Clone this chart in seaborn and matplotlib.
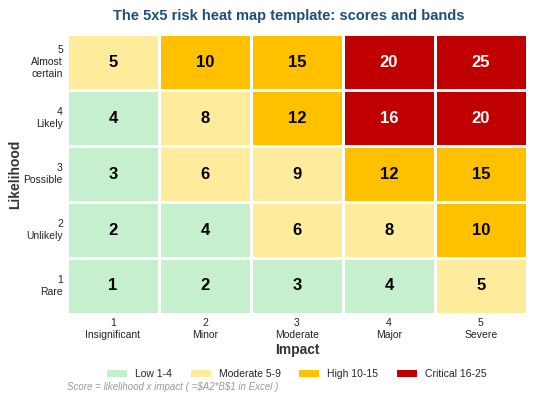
import numpy as np
import pandas as pd
import seaborn as sns
import matplotlib.pyplot as plt
from matplotlib.colors import ListedColormap, BoundaryNorm
from matplotlib.patches import Patch

impact_labels = ["1\nInsignificant", "2\nMinor", "3\nModerate", "4\nMajor", "5\nSevere"]
likelihood_labels = ["5\nAlmost\ncertain", "4\nLikely", "3\nPossible", "2\nUnlikely", "1\nRare"]
impact_vals = [1, 2, 3, 4, 5]
likelihood_vals = [5, 4, 3, 2, 1]
band_names = ["Low 1-4", "Moderate 5-9", "High 10-15", "Critical 16-25"]
band_edges = [0.5, 4.5, 9.5, 15.5, 25.5]
band_colors = ["#C6EFCE", "#FFEB9C", "#FFC000", "#C00000"]

scores = np.array([[l * i for i in impact_vals] for l in likelihood_vals])
df = pd.DataFrame(scores, index=likelihood_labels, columns=impact_labels)

sns.set_theme(style="white")
plt.rcParams['font.family'] = ['Liberation Sans', 'DejaVu Sans']

fig = plt.figure(figsize=(5.36, 4.0), dpi=100)
ax = fig.add_axes([0.125, 0.215, 0.858, 0.70])

cmap = ListedColormap(band_colors)
norm = BoundaryNorm(band_edges, cmap.N)
sns.heatmap(df, ax=ax, cmap=cmap, norm=norm, cbar=False, linewidths=2, linecolor="white",
            annot=False)

for r in range(scores.shape[0]):
    for c in range(scores.shape[1]):
        v = scores[r, c]
        color = "white" if v >= 16 else "black"
        ax.text(c + 0.5, r + 0.5, str(v), ha="center", va="center",
                fontsize=12, fontweight="bold", color=color)

ax.set_xlabel("Impact", fontsize=10, fontweight="bold", color="#333333", labelpad=2)
ax.set_ylabel("Likelihood", fontsize=10, fontweight="bold", color="#333333", labelpad=1)
ax.tick_params(axis="both", length=0, labelsize=7.5, colors="#222222", pad=3)
plt.setp(ax.get_yticklabels(), rotation=0, ha="right", multialignment="right")
plt.setp(ax.get_xticklabels(), rotation=0, ha="center", multialignment="center")

ax.set_title("The 5x5 risk heat map template: scores and bands", fontsize=10.5,
             fontweight="bold", color="#1F4E79", pad=10, x=0.483)

handles = [Patch(facecolor=c, edgecolor="none", label=n) for c, n in zip(band_colors, band_names)]
fig.legend(handles=handles, loc="center", bbox_to_anchor=(0.554, 0.065), ncol=4,
           frameon=False, fontsize=7.5, handlelength=1.9, handleheight=0.6,
           columnspacing=1.8, handletextpad=0.77)

fig.text(0.125, 0.033, r"Score = likelihood x impact ( =\$A2*B\$1 in Excel )", fontsize=7,
         style="italic", color="#999999", ha="left", va="center")

fig.savefig("out.png", dpi=100)
